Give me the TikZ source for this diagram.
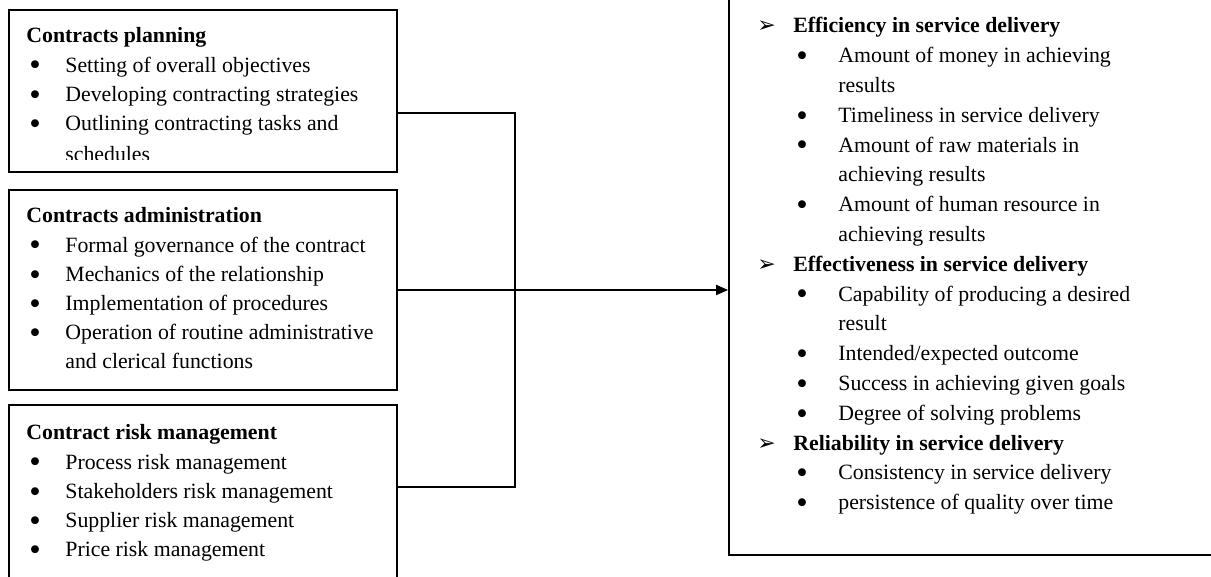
\documentclass[tikz,border=0pt]{standalone}
\usepackage{fontspec}
\usepackage{graphicx}
\setmainfont{Liberation Serif}
\newfontfamily\dejavu{DejaVu Sans}
\usetikzlibrary{positioning,arrows.meta,calc}

\newcommand{\bigdot}{\smash{\raisebox{-1.9pt}{\scalebox{1.5}{\textbullet}}}}
\newcommand{\bitem}{\makebox[19.5pt][l]{\hspace{1.5pt}\bigdot}}
\newcommand{\bcont}{\hspace*{19.5pt}}
\newcommand{\rhead}[1]{\makebox[18pt][l]{\dejavu\fontsize{11pt}{11pt}\selectfont ➢}\textbf{#1}}
\newcommand{\ritem}{\hspace*{19.5pt}\makebox[21pt][l]{\bigdot}}
\newcommand{\rcont}{\hspace*{40.5pt}}

\tikzset{
	frame/.style={draw, line width=0.9pt, inner sep=0pt},
	lbl/.style={anchor=base west, inner sep=0pt, font=\fontsize{10.9pt}{14.6pt}\selectfont},
}

\begin{document}
\begin{tikzpicture}[x=0.5pt,y=0.5pt]
		
		\useasboundingbox (0,0) rectangle (1211,577);
		
		% left boxes
		\node[frame, minimum width=194pt, minimum height=81pt] (P) at (203,486) {};
		\node[frame, minimum width=194pt, minimum height=100pt] (A) at (203,287) {};
		\node[frame, minimum width=194pt, minimum height=107.5pt] (R) at (203,64.5) {};
		
		% right box
		\node[frame, minimum width=255.5pt, minimum height=282.5pt] (E) at (984.5,304.5) {};
		
		\begin{scope}
			\clip ([yshift=6.5pt]P.south west) rectangle (P.north east);
			\node[lbl] (Ptxt) at (26,534)
			{\begin{tabular}[t]{@{}l@{}}
					\textbf{Contracts planning}\\
					\bitem Setting of overall objectives\\
					\bitem Developing contracting strategies\\
					\bitem Outlining contracting tasks and\\[1pt]
					\bcont schedules
			\end{tabular}};
		\end{scope}
		
		\node[lbl] (Atxt) at (26,354)
		{\begin{tabular}[t]{@{}l@{}}
				\textbf{Contracts administration}\\
				\bitem Formal governance of the contract\\
				\bitem Mechanics of the relationship\\
				\bitem Implementation of procedures\\
				\bitem Operation of routine administrative\\
				\bcont and clerical functions
		\end{tabular}};
		
		\node[lbl] (Rtxt) at (26,137)
		{\begin{tabular}[t]{@{}l@{}}
				\textbf{Contract risk management}\\
				\bitem Process risk management\\
				\bitem Stakeholders risk management\\
				\bitem Supplier risk management\\
				\bitem Price risk management
		\end{tabular}};
		
		\node[lbl, font=\fontsize{10.9pt}{14.9pt}\selectfont] (Etxt) at (757,544)
		{\begin{tabular}[t]{@{}l@{}}
				\rhead{Efficiency in service delivery}\\
				\ritem Amount of money in achieving\\
				\rcont results\\
				\ritem Timeliness in service delivery\\
				\ritem Amount of raw materials in\\
				\rcont achieving results\\
				\ritem Amount of human resource in\\
				\rcont achieving results\\
				\rhead{Effectiveness in service delivery}\\
				\ritem Capability of producing a desired\\
				\rcont result\\
				\ritem Intended/expected outcome\\
				\ritem Success in achieving given goals\\
				\ritem Degree of solving problems\\
				\rhead{Reliability in service delivery}\\
				\ritem Consistency in service delivery\\
				\ritem persistence of quality over time
		\end{tabular}};
		
		% connectors
		\coordinate (bus) at (515,287);
		\draw[line width=0.9pt] ([yshift=-11pt]P.east) -| (bus);
		\draw[line width=0.9pt] ([yshift=12.75pt]R.east) -| (bus);
		\draw[line width=0.9pt, -{Triangle[length=6pt,width=5pt]}]
		(A.east) -- (A.east -| E.west);
		
	\end{tikzpicture}
\end{document}
